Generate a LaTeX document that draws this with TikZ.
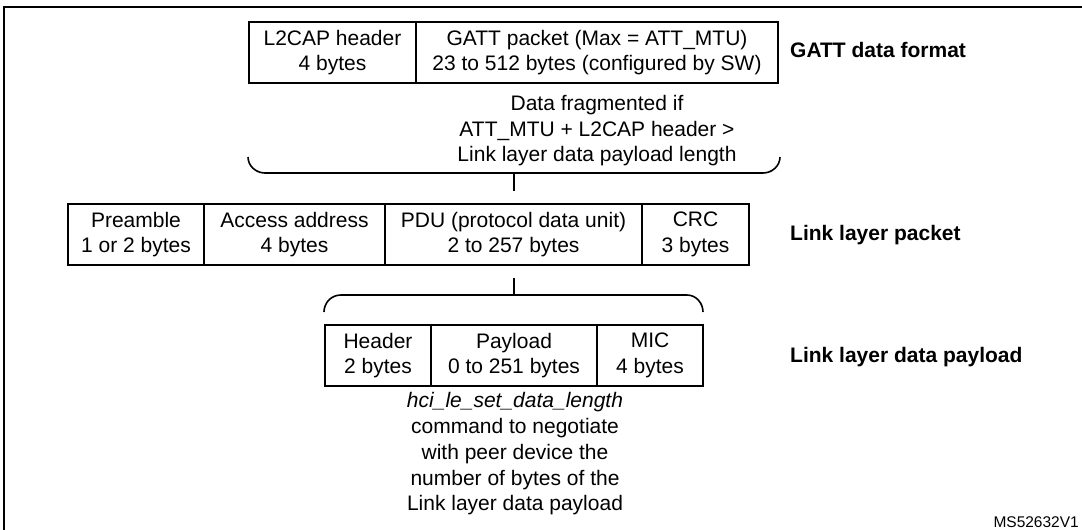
\documentclass[tikz,border=0pt]{standalone}
\usepackage{fontspec}
\setmainfont{Liberation Sans}
\newcommand{\bodyfont}{\fontsize{21pt}{25.7pt}\selectfont}
\newcommand{\labfont}{\fontsize{21pt}{25.7pt}\selectfont\bfseries}
\newcommand{\smallidfont}{\fontsize{15.5pt}{18pt}\selectfont}
\begin{document}
\begin{tikzpicture}[x=1pt,y=-1pt,
  cell/.style={draw, line width=1.6pt, minimum height=61pt, inner sep=0pt, align=center, font=\bodyfont},
  note/.style={inner sep=0pt, align=center, font=\bodyfont, anchor=north},
  lab/.style={inner sep=0pt, font=\labfont, anchor=base west},
  brace/.style={line width=1.6pt},
  tick/.style={line width=1.6pt},
  frame/.style={line width=2.2pt}]
\useasboundingbox (0,0) rectangle (1082,530);
% frame
\draw[frame] (4,530) -- (4,7) -- (1082,7);
% GATT data format row
\node[cell, minimum width=167pt] (l2cap) at (332.5,52.5) {L2CAP header\\4 bytes};
\node[cell, minimum width=362pt] (gatt) at (597,52.5) {GATT packet (Max = ATT\_MTU)\\23 to 512 bytes (configured by SW)};
\node[lab] (labgatt) at (790,57) {GATT data format};
\node[note] (frag) at (597,95) {Data fragmented if\\ATT\_MTU + L2CAP header >\\Link layer data payload length};
% upper brace
\draw[brace] (248,157) .. controls (248,166) and (256,173) .. (265,173) -- (763,173) .. controls (772,173) and (780,166) .. (780,157);
\coordinate (ubrace) at (514,173);
\coordinate (utick) at (514,191);
\draw[tick] (ubrace) -- (utick);
% Link layer packet row
\node[cell, minimum width=136pt] (pre) at (136,234.5) {Preamble\\1 or 2 bytes};
\node[cell, minimum width=181pt] (acc) at (294.5,234.5) {Access address\\4 bytes};
\node[cell, minimum width=257pt] (pdu) at (513.5,234.5) {PDU (protocol data unit)\\2 to 257 bytes};
\node[cell, minimum width=107pt] (crc) at (695.5,234.5) {CRC\\3 bytes};
\node[lab] (labll) at (790,240) {Link layer packet};
% lower brace
\coordinate (ltick) at (514,278);
\coordinate (lbrace) at (514,295);
\draw[tick] (ltick) -- (lbrace);
\draw[brace] (324,312) .. controls (324,303) and (331,295) .. (341,295) -- (687,295) .. controls (696,295) and (703,303) .. (703,312);
% Link layer data payload row
\node[cell, minimum width=106pt] (hdr) at (378,355.5) {Header\\2 bytes};
\node[cell, minimum width=166pt] (pay) at (514,355.5) {Payload\\0 to 251 bytes};
\node[cell, minimum width=106pt] (mic) at (650,355.5) {MIC\\4 bytes};
\node[lab] (labpl) at (790,362) {Link layer data payload};
\node[note] (hci) at (515,392.5) {\itshape hci\_le\_set\_data\_length\\command to negotiate\\with peer device the\\number of bytes of the\\Link layer data payload};
% id
\node[inner sep=0pt, font=\smallidfont, anchor=base east] (msid) at (1079,527) {MS52632V1};
\end{tikzpicture}
\end{document}
